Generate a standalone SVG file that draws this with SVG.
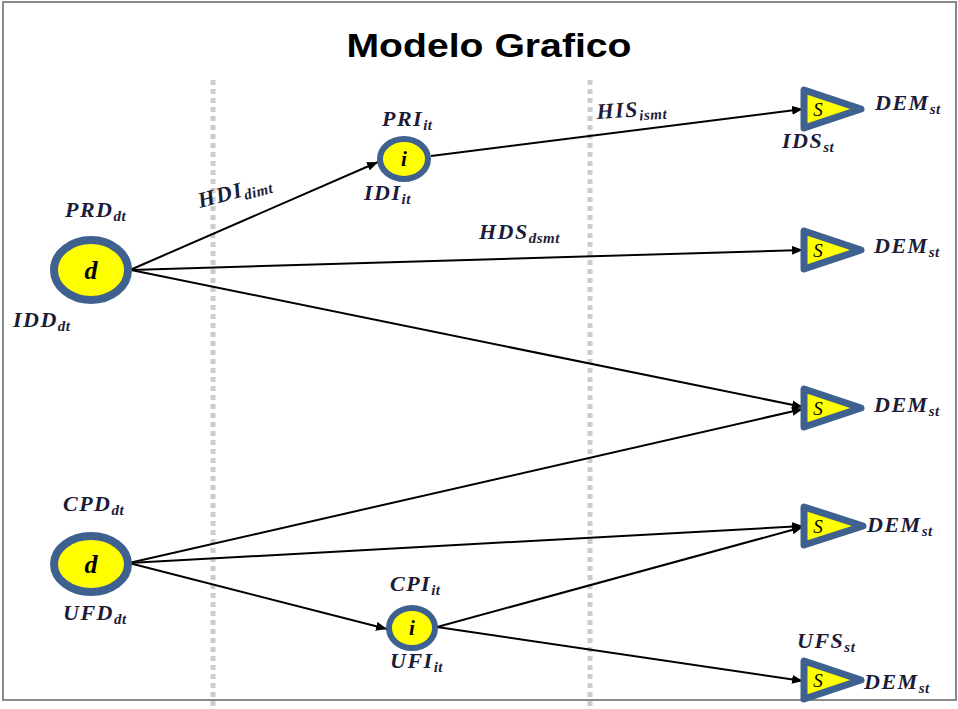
<svg xmlns="http://www.w3.org/2000/svg" width="958" height="709" viewBox="0 0 958 709">
  <defs>
    <style>
      .frame { fill: #ffffff; stroke: #8a8a8a; stroke-width: 2; }
      .title { font-family: "Liberation Sans", Arial, sans-serif; font-weight: bold; font-size: 34px; fill: #000; }
      .guide { stroke: #cccccc; stroke-width: 5; stroke-dasharray: 5 4; fill: none; }
      .node { fill: #ffff00; stroke: #3f6190; }
      .ring-big { stroke-width: 8; }
      .ring-small { stroke-width: 6; }
      .tri { fill: #ffff00; stroke: #3f6190; stroke-width: 7; stroke-linejoin: round; }
      .edge { stroke: #000; stroke-width: 2; fill: none; marker-end: url(#arrow); }
      .lbl { font-family: "Liberation Serif", "Times New Roman", serif; font-weight: bold; font-style: italic; font-size: 22px; fill: #1c1c38; letter-spacing: 1.5px; }
      .sub { font-size: 15px; letter-spacing: 0.5px; }
      .sym { font-family: "Liberation Serif", "Times New Roman", serif; font-weight: bold; font-style: italic; fill: #000; text-anchor: middle; }
      .s { font-family: "Liberation Serif", "Times New Roman", serif; font-style: italic; font-size: 19px; fill: #000; text-anchor: middle; }
    </style>
    <marker id="arrow" markerUnits="userSpaceOnUse" markerWidth="11" markerHeight="9" refX="11" refY="4.5" orient="auto">
      <path d="M0,0 L11,4.5 L0,9 z" fill="#000"/>
    </marker>
  </defs>

  <!-- page frame -->
  <rect class="frame" x="3" y="2" width="953" height="698"/>

  <text class="title" x="489" y="57" text-anchor="middle" textLength="285" lengthAdjust="spacingAndGlyphs">Modelo Grafico</text>

  <!-- stage separators -->
  <line class="guide" x1="213" y1="80" x2="213" y2="709"/>
  <line class="guide" x1="590" y1="80" x2="590" y2="709"/>

  <!-- connectors -->
  <g id="connectors">
    <line class="edge" x1="130" y1="270" x2="378" y2="162"/>
    <line class="edge" x1="431" y1="156" x2="803" y2="109"/>
    <line class="edge" x1="131" y1="270" x2="803" y2="250"/>
    <line class="edge" x1="131" y1="270" x2="803" y2="407"/>
    <line class="edge" x1="129" y1="563" x2="803" y2="409"/>
    <line class="edge" x1="129" y1="563" x2="803" y2="526"/>
    <line class="edge" x1="129" y1="563" x2="387" y2="629"/>
    <line class="edge" x1="437" y1="627" x2="803" y2="527"/>
    <line class="edge" x1="437" y1="627" x2="803" y2="681"/>

    <!-- edge labels -->
    <text class="lbl" transform="translate(200,208) rotate(-15)">HDI<tspan class="sub" dy="4">dimt</tspan></text>
    <text class="lbl" transform="translate(597,119) rotate(-3.5)">HIS<tspan class="sub" dy="4">ismt</tspan></text>
    <text class="lbl" x="479" y="239">HDS<tspan class="sub" dy="4">dsmt</tspan></text>
  </g>

  <!-- demand-side source nodes -->
  <g id="d1">
    <ellipse class="node ring-big" cx="91" cy="270" rx="37" ry="30"/>
    <text class="sym" x="91" y="279" font-size="26">d</text>
    <text class="lbl" x="65" y="217">PRD<tspan class="sub" dy="4">dt</tspan></text>
    <text class="lbl" x="13" y="327">IDD<tspan class="sub" dy="4">dt</tspan></text>
  </g>

  <g id="d2">
    <ellipse class="node ring-big" cx="91" cy="564" rx="37" ry="28"/>
    <text class="sym" x="91" y="573" font-size="26">d</text>
    <text class="lbl" x="63" y="511">CPD<tspan class="sub" dy="4">dt</tspan></text>
    <text class="lbl" x="63" y="620">UFD<tspan class="sub" dy="4">dt</tspan></text>
  </g>

  <!-- intermediate nodes -->
  <g id="i1">
    <ellipse class="node ring-small" cx="404" cy="159" rx="24" ry="20"/>
    <text class="sym" x="404" y="166" font-size="21">i</text>
    <text class="lbl" x="382" y="126">PRI<tspan class="sub" dy="4">it</tspan></text>
    <text class="lbl" x="364" y="200">IDI<tspan class="sub" dy="4">it</tspan></text>
  </g>

  <g id="i2">
    <ellipse class="node ring-small" cx="412" cy="628" rx="23" ry="20"/>
    <text class="sym" x="412" y="635" font-size="21">i</text>
    <text class="lbl" x="390" y="591">CPI<tspan class="sub" dy="4">it</tspan></text>
    <text class="lbl" x="390" y="668">UFI<tspan class="sub" dy="4">it</tspan></text>
  </g>

  <!-- sink nodes -->
  <g id="s1">
    <path class="tri" d="M804,90 L804,128 L861,109 Z"/>
    <text class="s" x="818" y="116">S</text>
    <text class="lbl" x="875" y="110">DEM<tspan class="sub" dy="4">st</tspan></text>
    <text class="lbl" x="782" y="148">IDS<tspan class="sub" dy="4">st</tspan></text>
  </g>

  <g id="s2">
    <path class="tri" d="M804,231 L804,269 L861,250 Z"/>
    <text class="s" x="818" y="257">S</text>
    <text class="lbl" x="874" y="253">DEM<tspan class="sub" dy="4">st</tspan></text>
  </g>

  <g id="s3">
    <path class="tri" d="M804,389 L804,427 L861,408 Z"/>
    <text class="s" x="818" y="415">S</text>
    <text class="lbl" x="874" y="412">DEM<tspan class="sub" dy="4">st</tspan></text>
  </g>

  <g id="s4">
    <path class="tri" d="M804,507 L804,545 L863,526 Z"/>
    <text class="s" x="818" y="533">S</text>
    <text class="lbl" x="867" y="532">DEM<tspan class="sub" dy="4">st</tspan></text>
  </g>

  <g id="s5">
    <path class="tri" d="M804,661 L804,699 L861,680 Z"/>
    <text class="s" x="818" y="687">S</text>
    <text class="lbl" x="864" y="689">DEM<tspan class="sub" dy="4">st</tspan></text>
    <text class="lbl" x="797" y="648">UFS<tspan class="sub" dy="4">st</tspan></text>
  </g>
</svg>
